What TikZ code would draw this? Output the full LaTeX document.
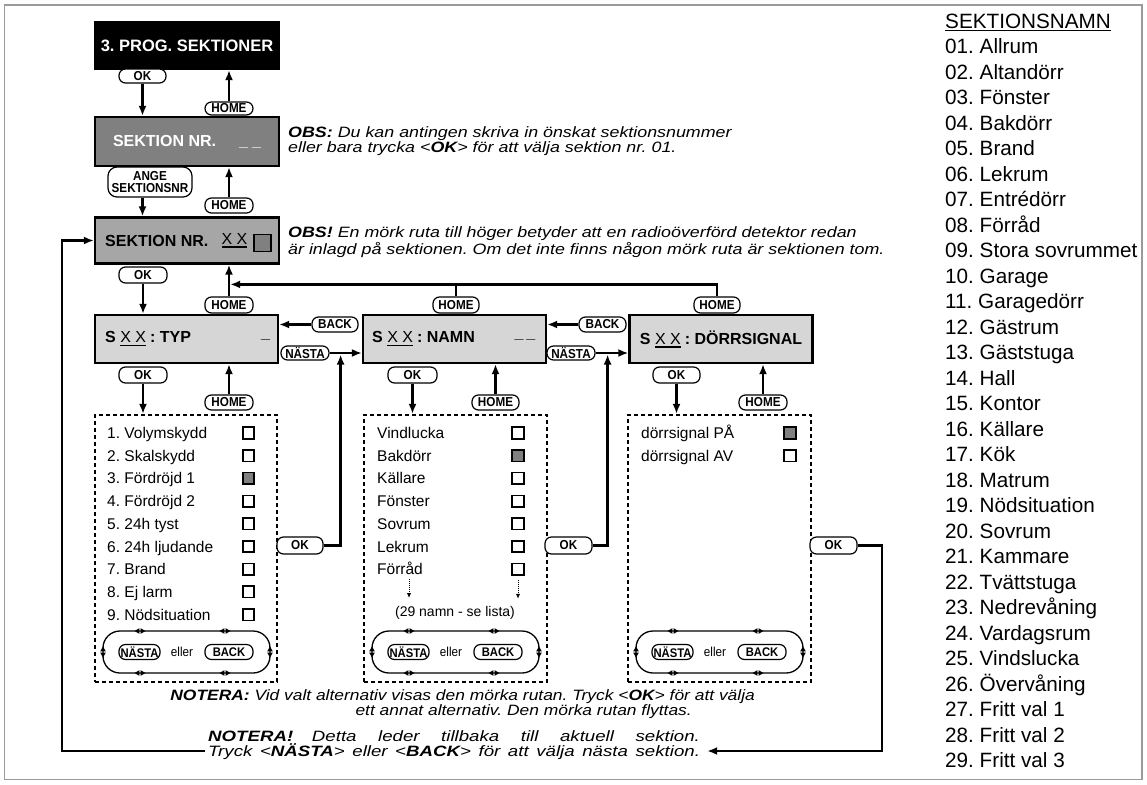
\documentclass[tikz,border=0pt]{standalone}
\usepackage{graphicx}
\usepackage{fontspec}
\setmainfont{Liberation Sans}
\newfontfamily\narrowfont[FakeStretch=0.9]{Liberation Sans}
\usetikzlibrary{arrows.meta,calc}
\definecolor{framegray}{HTML}{9A9A9A}
\definecolor{darkbox}{HTML}{808080}
\definecolor{midbox}{HTML}{A6A6A6}
\definecolor{lightbox}{HTML}{D6D6D6}
\definecolor{chkgray}{HTML}{808080}
\newcommand\fsz[1]{\fontsize{#1}{#1}\selectfont}
\newcommand\ulx[1]{\setbox0\hbox{#1}\rlap{\rule[-3.5pt]{\wd0}{1.8pt}}\box0}
\newcommand\ulthin[1]{\setbox0\hbox{#1}\rlap{\rule[-2.5pt]{\wd0}{1.2pt}}\box0}
\newcommand\sxw[2]{\scalebox{#1}[1]{#2}}
\newcommand\hmk[2]{\fill (#1-0.6,#2-2.8) -- (#1-0.6,#2+2.8) -- (#1-5.5,#2) -- cycle;
  \fill (#1+0.6,#2-2.8) -- (#1+0.6,#2+2.8) -- (#1+5.5,#2) -- cycle;}
\newcommand\vmk[2]{\fill (#1-2.8,#2-0.6) -- (#1+2.8,#2-0.6) -- (#1,#2-5.5) -- cycle;
  \fill (#1-2.8,#2+0.6) -- (#1+2.8,#2+0.6) -- (#1,#2+5.5) -- cycle;}
\tikzset{
 scr/.style={draw, line width=2.3pt, minimum width=183pt, minimum height=48pt, inner sep=0pt},
 btn/.style={draw, line width=1.2pt, fill=white, rounded corners=6.5pt, inner sep=0pt, minimum height=15pt, font=\narrowfont\bfseries\fsz{13}},
 sbtn/.style={btn, font=\narrowfont\bfseries\fsz{12.5}},
 arr/.style={line width=2.4pt, -{Latex[length=10pt,width=8pt]}},
 ln/.style={line width=2.4pt},
 listbox/.style={draw, line width=2.3pt, dash pattern=on 4pt off 3pt, inner sep=0pt, minimum width=182pt, minimum height=267pt},
 item/.style={anchor=base west, inner sep=0pt, font=\fsz{15.5}},
 chk/.style={draw, line width=1.6pt, fill=white, minimum size=11.5pt, inner sep=0pt},
 chkon/.style={chk, fill=chkgray},
 loopbox/.style={draw, line width=1.3pt, rounded corners=17pt, minimum width=167pt, minimum height=42pt, inner sep=0pt},
 note/.style={inner sep=0pt, font=\itshape\fsz{15}},
 lst/.style={anchor=base west, inner sep=0pt, font=\fsz{20.7}},
 scrtxt/.style={anchor=west, inner sep=0pt, font=\bfseries\fsz{16}},
 dots/.style={line width=1pt, densely dotted, -{Latex[length=5pt,width=4.5pt]}},
}
\begin{document}
\frenchspacing
\begin{tikzpicture}[x=1pt,y=-1pt]
\useasboundingbox (0,0) rectangle (1147,784);
\draw[framegray, line width=1.6pt] (4.5,5) rectangle (1142,779.5);

% top screens
\node[scr, fill=black, text=white, font=\bfseries\fsz{16.5}, minimum width=184pt, minimum height=47pt] (prog) at (187,45.5) {3. PROG. SEKTIONER};
\node[scr, fill=darkbox, text=white, font=\bfseries\fsz{16}, minimum width=184pt, minimum height=49pt] (snr) at (187,141.5) {\makebox[148pt][l]{SEKTION NR.\hfill\_\hspace{4pt}\_}};
\node[scr, fill=midbox, minimum width=184pt, minimum height=46pt] (sxx) at (187,240.5) {};
\node[scrtxt] (sxxt) at (105,241) {SEKTION NR.};
\node[inner sep=0pt, font=\fsz{16}] (sxxx) at (234.5,241) {\ulx{X X}};
\node[chkon, minimum size=17pt, line width=1.8pt] (sxxq) at (262.5,243) {};

% row screens
\node[scr, fill=lightbox] (typ) at (186.5,339) {};
\node[scr, fill=lightbox] (namn) at (454.5,339) {};
\node[scr, fill=lightbox] (door) at (721,339) {};
\node[scrtxt] (typt) at (105,339) {S \ulx{\mdseries X X}\hspace{4pt}: TYP};
\node[inner sep=0pt, font=\bfseries\fsz{16}] (typu) at (265.5,339) {\_};
\node[scrtxt] (namnt) at (372,339) {S \ulx{\mdseries X X}\hspace{4pt}: NAMN};
\node[inner sep=0pt, font=\bfseries\fsz{16}] (namnu) at (525,339) {\_\hspace{3pt}\_};
\node[inner sep=0pt, font=\bfseries\fsz{16}] (doort) at (721,339) {S \ulx{\mdseries X X}\hspace{4pt}: DÖRRSIGNAL};

% buttons
\node[btn, minimum width=47pt, minimum height=14pt] (ok1) at (142.5,76) {OK};
\node[btn, minimum width=48pt, minimum height=13pt] (home1) at (229,108.5) {HOME};
\node[btn, minimum width=84pt, minimum height=30pt, align=center, font=\narrowfont\bfseries\fontsize{13}{12.5}\selectfont, rounded corners=9pt] (ange) at (150,182) {ANGE\\SEKTIONSNR};
\node[btn, minimum width=48pt] (home2) at (229,205.5) {HOME};
\node[btn, minimum width=48pt, minimum height=16pt] (ok2) at (143,275) {OK};
\node[btn, minimum width=48pt, minimum height=16pt] (home3) at (229,305) {HOME};
\node[btn, minimum width=46pt] (back1) at (335,324.5) {BACK};
\node[btn, minimum width=48pt, minimum height=14pt] (nasta1) at (305,353) {NÄSTA};
\node[btn, minimum width=48pt, minimum height=16pt] (ok3) at (143,375) {OK};
\node[btn, minimum width=48pt] (home4) at (229,402.5) {HOME};
\node[btn, minimum width=46pt, minimum height=16pt] (homeN) at (456,305) {HOME};
\node[btn, minimum width=47pt] (backN) at (602.5,324.5) {BACK};
\node[btn, minimum width=48pt, minimum height=14pt] (nastaN) at (571,353) {NÄSTA};
\node[btn, minimum width=49pt, minimum height=16pt] (okN) at (412.5,375) {OK};
\node[btn, minimum width=47pt] (home5) at (495.5,402.5) {HOME};
\node[btn, minimum width=46pt, minimum height=16pt] (homeD) at (717,305) {HOME};
\node[btn, minimum width=47pt, minimum height=16pt] (okD) at (676.5,375) {OK};
\node[btn, minimum width=48pt] (home6) at (763,402.5) {HOME};

% list boxes
\node[listbox] (list1) at (186,548.5) {};
\node[listbox, minimum width=183pt] (list2) at (455.5,548.5) {};
\node[listbox, minimum width=183pt] (list3) at (719.5,548.5) {};

\node[btn, minimum width=46pt, minimum height=17pt] (okr1) at (300,545.5) {OK};
\node[btn, minimum width=47pt, minimum height=17pt] (okr2) at (568.5,545.5) {OK};
\node[btn, minimum width=47pt, minimum height=17pt] (okr3) at (833.5,545.5) {OK};

\foreach \t/\s [count=\i] in {1. Volymskydd/chk, 2. Skalskydd/chk, 3. Fördröjd 1/chkon, 4. Fördröjd 2/chk, 5. 24h tyst/chk, 6. 24h ljudande/chk, 7. Brand/chk, 8. Ej larm/chk, 9. Nödsituation/chk}{
  \node[item] (ta\i) at (107,{438.5+22.7*(\i-1)}) {\t};
  \node[\s] (ca\i) at (248.5,{433+22.7*(\i-1)}) {};
}
\foreach \t/\s [count=\i] in {Vindlucka/chk, Bakdörr/chkon, Källare/chk, Fönster/chk, Sovrum/chk, Lekrum/chk, Förråd/chk}{
  \node[item] (tb\i) at (377,{438.5+22.7*(\i-1)}) {\t};
  \node[\s] (cb\i) at (518,{433+22.7*(\i-1)}) {};
}
\foreach \t/\s [count=\i] in {dörrsignal PÅ/chkon, dörrsignal AV/chk}{
  \node[item] (tc\i) at (641,{438.5+22.7*(\i-1)}) {\t};
  \node[\s] (cc\i) at (790,{433+22.7*(\i-1)}) {};
}
\coordinate (da) at (409,579);
\draw[dots] (da) -- ++(0,19);
\draw[dots] ($(cb7.south)+(0,4)$) -- ++(0,19);
\node[inner sep=0pt, font=\fsz{14}] (namnlista) at (455,613) {(29 namn - se lista)};

% scroll loops
\foreach \cx/\nm in {186.5/a, 455.5/b, 719.5/c}{
  \node[loopbox] (loop\nm) at (\cx,652) {};
  \node[sbtn, minimum width=41pt] (nast\nm) at (\cx-47,652) {NÄSTA};
  \node[inner sep=0pt, font=\narrowfont\fsz{13}] (eller\nm) at (\cx-4.5,652) {eller};
  \node[sbtn, minimum width=48pt] (back\nm) at (\cx+42.5,652) {BACK};
  \hmk{\cx-46.5}{631} \hmk{\cx+38.5}{631}
  \hmk{\cx-46.5}{673} \hmk{\cx+38.5}{673}
  \vmk{\cx-83.5}{652} \vmk{\cx+83.5}{652}
}

% arrows
\draw[arr] (ok1.south) -- (ok1.south |- snr.north);
\draw[arr] (home1.north) -- (home1.north |- prog.south);
\draw[arr] (ok1.south |- ange.south) -- (ok1.south |- sxx.north);
\draw[arr] (home2.north) -- (home2.north |- snr.south);
\draw[arr] (ok2.south) -- (ok2.south |- typ.north);
\draw[arr] (home3.north) -- (home3.north |- sxx.south);
\draw[arr] (back1.west) -- (back1.west -| typ.east);
\draw[arr] (nasta1.east) -- (nasta1.east -| namn.west);
\draw[arr] (ok3.south) -- (ok3.south |- list1.north);
\draw[arr] (home4.north) -- (home4.north |- typ.south);
\draw[arr] (homeD.north) -- ++(0,-12) -- ($(home3.north)+(1.2,-12)$);
\draw[ln] (homeN.north) -- ++(0,-12);
\draw[arr] (backN.west) -- (backN.west -| namn.east);
\draw[arr] (nastaN.east) -- (nastaN.east -| door.west);
\draw[arr] (okN.south) -- (okN.south |- list2.north);
\draw[arr] (home5.north) -- (home5.north |- namn.south);
\draw[arr] (okD.south) -- (okD.south |- list3.north);
\draw[arr] (home6.north) -- (home6.north |- door.south);
\draw[arr] (okr1.east) -| ($(nasta1.east)+(11,1.5)$);
\draw[arr] (okr2.east) -| ($(nastaN.east)+(12,1.5)$);

% notes
\node[note, anchor=west] (obs1) at (288,134) {\sxw{1.19}{\textbf{OBS:} Du kan antingen skriva in önskat sektionsnummer}};
\node[note, anchor=west] (obs2) at (288,149) {\sxw{1.19}{eller bara trycka <\textbf{OK}> för att välja sektion nr. 01.}};
\node[note, anchor=west] (obs3) at (288,234) {\sxw{1.19}{\textbf{OBS!} En mörk ruta till höger betyder att en radioöverförd detektor redan}};
\node[note, anchor=west] (obs4) at (288,250) {\sxw{1.19}{är inlagd på sektionen. Om det inte finns någon mörk ruta är sektionen tom.}};
\node[note, anchor=east] (not1) at (755,697) {\sxw{1.16}{\textbf{NOTERA:} Vid valt alternativ visas den mörka rutan. Tryck <\textbf{OK}> för att välja}};
\node[note, anchor=east] (not2) at (692,712) {\sxw{1.16}{ett annat alternativ. Den mörka rutan flyttas.}};
\node[note, align=left, anchor=west] (nb) at (208,745.5) {\sxw{1.245}{\makebox[395pt][s]{\textbf{NOTERA!}\quad Detta leder tillbaka till aktuell sektion.}}\\\sxw{1.245}{\makebox[395pt][s]{Tryck <\textbf{NÄSTA}> eller <\textbf{BACK}> för att välja nästa sektion.}}};

\coordinate (rc) at (882,751);
\draw[arr] (okr3.east) -| (rc) -- ($(nb.east |- rc)+(7,0)$);
\coordinate (lc) at (62,751);
\draw[arr] ($(nb.west |- lc)+(-3,0)$) -- (lc) |- (sxx.west);

% right list
\node[lst] (rh) at (945,28.5) {\ulthin{SEKTIONSNAMN}};
\foreach \t [count=\i] in {01. Allrum, 02. Altandörr, 03. Fönster, 04. Bakdörr, 05. Brand, 06. Lekrum, 07. Entrédörr, 08. Förråd, 09. Stora sovrummet, 10. Garage, 11. Garagedörr, 12. Gästrum, 13. Gäststuga, 14. Hall, 15. Kontor, 16. Källare, 17. Kök, 18. Matrum, 19. Nödsituation, 20. Sovrum, 21. Kammare, 22. Tvättstuga, 23. Nedrevåning, 24. Vardagsrum, 25. Vindslucka, 26. Övervåning, 27. Fritt val 1, 28. Fritt val 2, 29. Fritt val 3}{
  \node[lst] (r\i) at (945,{53.5+25.5*(\i-1)}) {\t};
}
\end{tikzpicture}
\end{document}
